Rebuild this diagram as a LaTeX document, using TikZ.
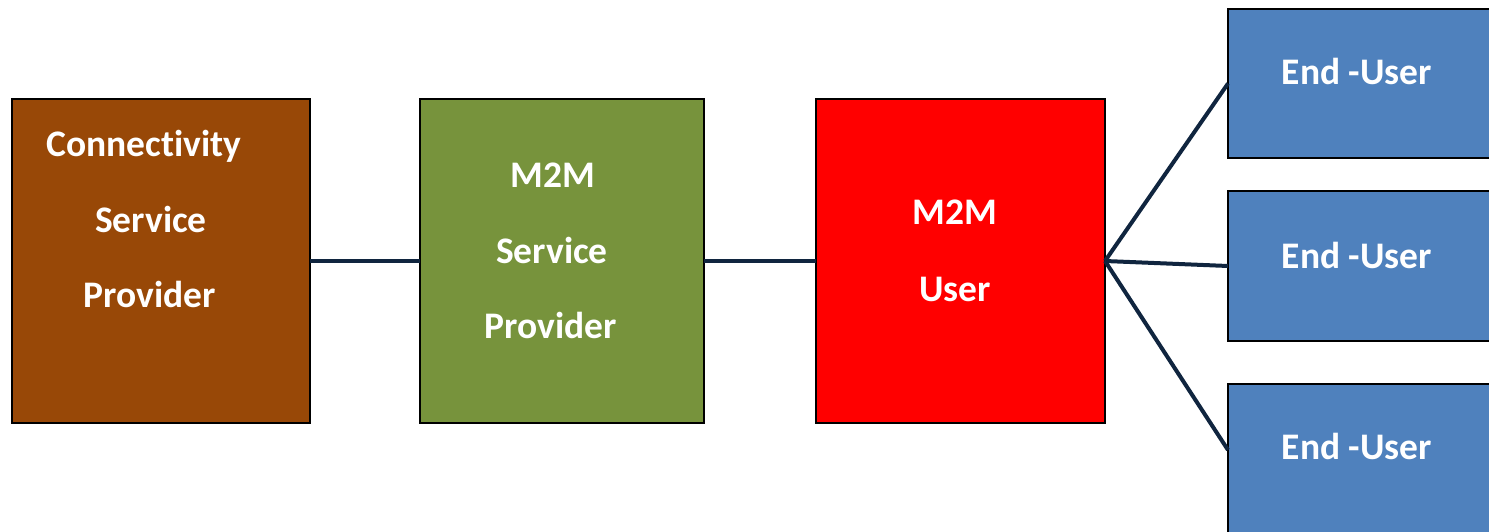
\documentclass[tikz,border=0pt]{standalone}
\usepackage{fontspec}
\setmainfont[Ligatures={NoCommon}]{Carlito}
\definecolor{brownbox}{HTML}{984807}
\definecolor{greenbox}{HTML}{77933C}
\definecolor{redbox}{HTML}{FF0000}
\definecolor{bluebox}{HTML}{4F81BD}
\definecolor{linkcol}{HTML}{10253F}
\begin{document}
\begin{tikzpicture}[x=1pt,y=-1pt,
  box/.style={draw=black,line width=2pt,inner sep=0pt,outer sep=0pt},
  lbl/.style={anchor=base,text=white,inner sep=0pt,font=\fontsize{37.5}{44}\selectfont\bfseries},
  link/.style={draw=linkcol,line width=4pt}]
\useasboundingbox (0,0) rectangle (1489,532);
\node[box,fill=brownbox,minimum width=298pt,minimum height=324pt] (csp) at (161,261) {};
\node[box,fill=greenbox,minimum width=284pt,minimum height=324pt] (msp) at (562,261) {};
\node[box,fill=redbox,minimum width=289pt,minimum height=324pt] (mu) at (960.5,261) {};
\node[box,fill=bluebox,minimum width=300pt,minimum height=149pt] (eu1) at (1378,83.5) {};
\node[box,fill=bluebox,minimum width=300pt,minimum height=150pt] (eu2) at (1378,266) {};
\node[box,fill=bluebox,minimum width=300pt,minimum height=170pt] (eu3) at (1378,469) {};
% labels
\node[lbl] (t1) at (144,157) {Connectivity};
\node[lbl] (t2) at (151,232) {Service};
\node[lbl] (t3) at (150,307) {Provider};
\node[lbl] (t4) at (553,187) {M2M};
\node[lbl] (t5) at (552,263) {Service};
\node[lbl] (t6) at (551,338) {Provider};
\node[lbl] (t7) at (955,224) {M2M};
\node[lbl] (t8) at (955,301) {User};
\node[lbl] (t9) at (1357,85) {End -User};
\node[lbl] (t10) at (1357,268) {End -User};
\node[lbl] (t11) at (1357,459) {End -User};
% connectors
\coordinate (hub) at (mu.east);
\draw[link] (csp.east) -- (msp.west);
\draw[link] (msp.east) -- (mu.west);
\draw[link] (hub) -- (eu1.west);
\draw[link] (hub) -- (eu2.west);
\draw[link] (hub) -- ([yshift=19pt]eu3.west);
\end{tikzpicture}
\end{document}
